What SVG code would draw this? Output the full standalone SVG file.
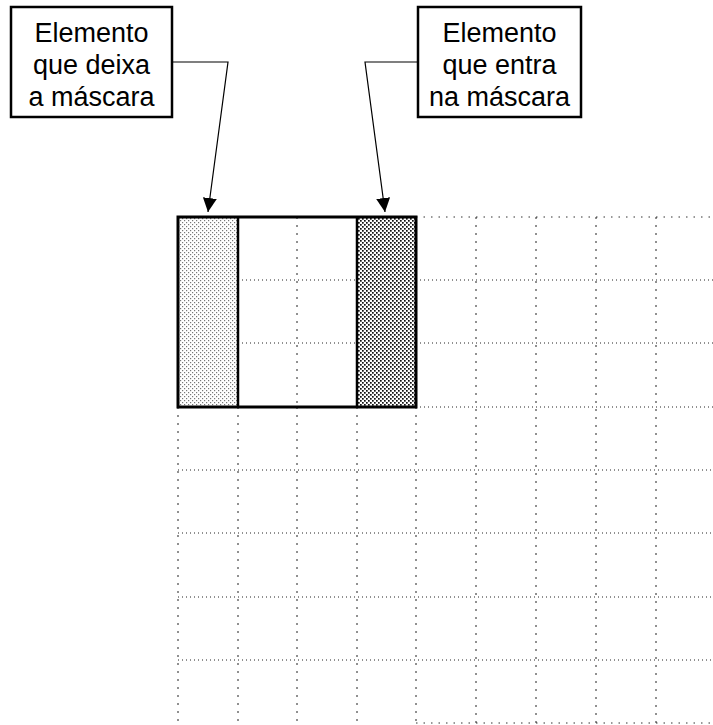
<svg xmlns="http://www.w3.org/2000/svg" width="713" height="725" viewBox="0 0 713 725">
<style>
.lbl{fill:#fff;stroke:#000;stroke-width:2.5}
.txt{font-family:"Liberation Sans",Arial,sans-serif;font-size:27px;fill:#000;text-anchor:middle}
.conn{fill:none;stroke:#000;stroke-width:1.2}
.gh{stroke:#222;stroke-width:1;stroke-dasharray:1 3;fill:none}
.gt{stroke:#333;stroke-width:1;stroke-dasharray:1.5 6;fill:none}
.gv{stroke:#222;stroke-width:1;stroke-dasharray:2 6;fill:none}
.thick{stroke:#000;stroke-width:3;fill:none}
</style>
<defs>
<pattern id="light" width="4" height="4" patternUnits="userSpaceOnUse">
<rect width="4" height="4" fill="#fff"/>
<rect x="0" y="0" width="1.2" height="1.2" fill="#777"/>
<rect x="2" y="2" width="1.2" height="1.2" fill="#777"/>
</pattern>
<pattern id="dark" width="4" height="4" patternUnits="userSpaceOnUse">
<rect width="4" height="4" fill="#fff"/>
<rect x="0" y="0" width="1.7" height="1.7" fill="#111"/>
<rect x="2" y="2" width="1.7" height="1.7" fill="#111"/>
</pattern>
<marker id="arr" markerUnits="userSpaceOnUse" markerWidth="16" markerHeight="16" refX="14" refY="7" orient="auto">
<path d="M0,0 L14,7 L0,14 Z" fill="#000"/>
</marker>
</defs>

<g id="grid">
<path class="gt" d="M416,217 H713"/>
<path class="gh" d="M238,280 H357 M416,280 H713 M238,343 H357 M416,343 H713 M416,407 H713 M178,470 H713 M178,533 H713 M178,597 H713 M178,660 H713"/>
<path class="gt" d="M416,723 H713"/>
<path class="gv" d="M297,217 V407 M178,407 V725 M238,407 V725 M297,407 V725 M357,407 V725 M416,407 V725 M476,217 V725 M536,217 V725 M596,217 V725 M656,217 V725"/>
</g>

<g id="mask">
<rect x="178" y="217" width="60" height="190" fill="url(#light)"/>
<rect x="357" y="217" width="59" height="190" fill="url(#dark)"/>
<rect x="178" y="217" width="238" height="190" class="thick"/>
<path d="M238,217 V407 M357,217 V407" stroke="#000" stroke-width="2.5" fill="none"/>
</g>

<g id="label-left">
<rect class="lbl" x="11" y="7" width="161" height="110"/>
<text class="txt" x="91.5" y="42">Elemento</text>
<text class="txt" x="91.5" y="74">que deixa</text>
<text class="txt" x="91.5" y="106">a máscara</text>
</g>

<g id="label-right">
<rect class="lbl" x="418" y="7" width="163" height="110"/>
<text class="txt" x="499.5" y="42">Elemento</text>
<text class="txt" x="499.5" y="74">que entra</text>
<text class="txt" x="499.5" y="106">na máscara</text>
</g>

<g id="connectors">
<path class="conn" d="M172,62 H228 L208,212" marker-end="url(#arr)"/>
<path class="conn" d="M418,62 H365 L385,212" marker-end="url(#arr)"/>
</g>
</svg>
